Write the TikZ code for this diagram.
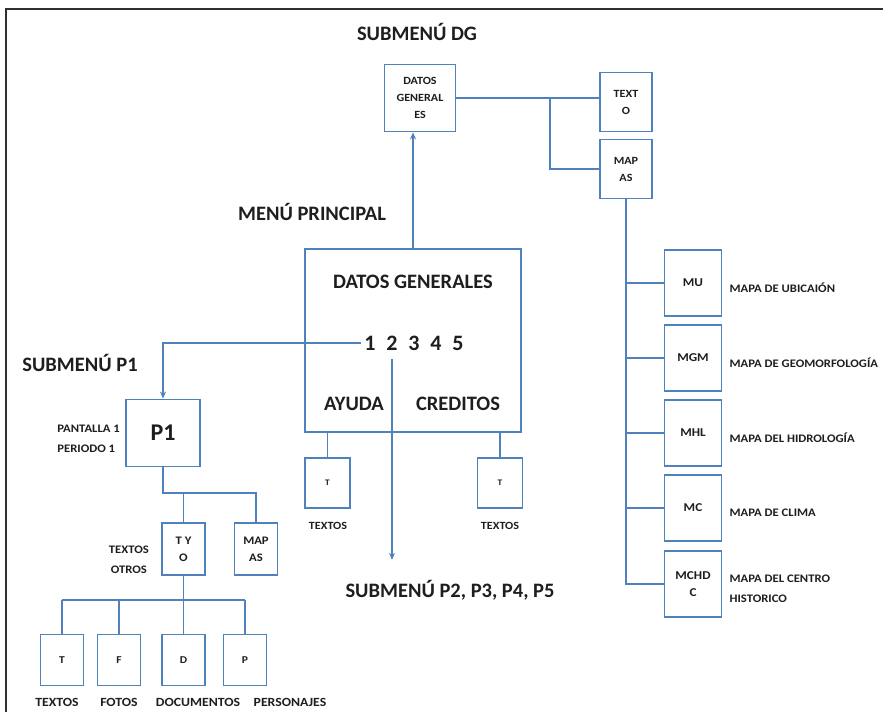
\documentclass[tikz,border=0pt]{standalone}
\usepackage{fontspec}
\setmainfont{Carlito}
\newfontfamily\wfont{Carlito}[FakeStretch=1.1]
\usepackage{tikz}
\usetikzlibrary{arrows.meta,positioning,calc}
\definecolor{acc}{HTML}{4F81BD}
\definecolor{ink}{HTML}{1E1E1E}
\definecolor{frm}{HTML}{303030}
\tikzset{
  >={Stealth[length=7pt,width=6pt]},
  box/.style={draw=acc,line width=1.8pt,fill=white,inner sep=1pt,align=center,text=ink,font=\wfont\bfseries\fontsize{11}{17}\selectfont},
  dgbox/.style={box,minimum width=71pt,minimum height=67pt},
  sbox/.style={box,minimum width=52pt,minimum height=59pt},
  mbox/.style={box,minimum width=57pt,minimum height=66pt,font=\wfont\bfseries\fontsize{12}{17}\selectfont},
  pbox/.style={box,minimum width=74pt,minimum height=67pt,font=\bfseries\fontsize{24}{26}\selectfont},
  obox/.style={box,minimum width=43pt,minimum height=52pt,font=\wfont\bfseries\fontsize{11.5}{17}\selectfont},
  tbox/.style={box,minimum width=45pt,minimum height=50pt,font=\wfont\bfseries\fontsize{8.5}{10}\selectfont},
  bbox/.style={box,minimum width=43pt,minimum height=51pt,font=\wfont\bfseries\fontsize{10.5}{12}\selectfont},
  ttl/.style={text=ink,inner sep=1pt,font=\bfseries\fontsize{20.5}{23}\selectfont},
  num/.style={text=ink,inner sep=3pt,font=\bfseries\fontsize{22}{24}\selectfont},
  lab/.style={text=ink,inner sep=1pt,align=left,font=\wfont\bfseries\fontsize{11.5}{20}\selectfont},
  blab/.style={text=ink,inner sep=1pt,font=\wfont\bfseries\fontsize{12.5}{14}\selectfont},
  ln/.style={draw=acc,line width=1.8pt},
  arr/.style={->,draw=acc,line width=1.8pt},
}
\begin{document}
\begin{tikzpicture}[x=1pt,y=-1pt]
\useasboundingbox (0,0) rectangle (883,712);
\draw[frm,line width=2.5pt] (6,712) -- (6,9) -- (883,9);

% submenu DG
\node[ttl] (tdg) at (417,32) {SUBMENÚ DG};
\node[dgbox] (dg) at (420,98) {DATOS\\GENERAL\\ES};
\node[sbox] (texto) at (626,102) {TEXT\\O};
\node[sbox] (mapas) at (626,169) {MAP\\AS};
\coordinate (jdg) at (550,98);
\draw[ln] (dg.east) -- (jdg) -- (jdg -| texto.west);
\draw[ln] (jdg) |- (mapas.west);

% map list
\foreach \n/\y/\t/\d in {mu/283/MU/{MAPA DE UBICAIÓN},mgm/358/MGM/{MAPA DE GEOMORFOLOGÍA},mhl/433/MHL/{MAPA DEL HIDROLOGÍA},mc/508/MC/{MAPA DE CLIMA},mchdc/584/{MCHD\\C}/{MAPA DEL CENTRO\\HISTORICO}}{
  \node[mbox] (\n) at (693,\y) {\t};
  \node[lab,anchor=west] (\n-l) at ([xshift=6pt,yshift=-5pt]\n.east) {\d};
}
\draw[ln] (mapas.south) |- (mchdc.west);
\foreach \n in {mu,mgm,mhl,mc}
  \draw[ln] (mapas.south |- \n.west) -- (\n.west);

% main menu
\node[ttl] (tmp) at (312,212) {MENÚ PRINCIPAL};
\node[box,minimum width=216pt,minimum height=183pt] (main) at (413,340.5) {};
\node[ttl] (dgt) at (413,282) {DATOS GENERALES};
\foreach \d in {1,...,5}
  \node[num] (n\d) at ({348+22*\d},343) {\d};
\node[ttl] (ayuda) at (354,404) {AYUDA};
\node[ttl] (cred) at (458,404) {CREDITOS};
\draw[arr] (main.north) -- (main.north |- dg.south);

\node[tbox] (ta) at (327.5,483) {T};
\node[tbox] (tc) at (500,483) {T};
\draw[ln] (main.south -| ta.north) -- (ta.north);
\draw[ln] (main.south -| tc.north) -- (tc.north);
\node[blab,font=\wfont\bfseries\fontsize{11}{12}\selectfont] (ta-l) at (328,526) {TEXTOS};
\node[blab,font=\wfont\bfseries\fontsize{11}{12}\selectfont] (tc-l) at (500,526) {TEXTOS};

\node[ttl] (tsub) at (450,590) {SUBMENÚ P2, P3, P4, P5};
\draw[arr,shorten <=6pt,shorten >=19pt] (n2.south) -- (n2.south |- tsub.north);

% submenu P1
\node[ttl] (tp1) at (80,363) {SUBMENÚ P1};
\node[pbox] (p1) at (163,433) {P1};
\draw[arr] (n1.west) -| (p1.north);
\node[lab,anchor=east] (pant) at (121,439) {PANTALLA 1\\PERIODO 1};

\coordinate (jp1) at (163,493);
\node[obox] (tyo) at (183.5,549) {T Y\\O};
\node[obox] (mp1) at (256,549) {MAP\\AS};
\draw[ln] (p1.south) -- (jp1) -| (mp1.north);
\draw[ln] (tyo.north) -- (tyo.north |- jp1);
\node[lab,align=center,anchor=east] (tot) at (150,560) {TEXTOS\\OTROS};

\coordinate (jtyo) at (183.5,600);
\foreach \n/\x/\t in {bt/62/T,bf/119/F,bd/183.5/D,bp/245/P}{
  \node[bbox] (\n) at (\x,660) {\t};
  \draw[ln] (\n.north) -- (\n.north |- jtyo);
}
\draw[ln] (tyo.south) -- (jtyo);
\draw[ln] (bt.north |- jtyo) -- (bp.north |- jtyo);
\node[blab] (bt-l) at (57,702) {TEXTOS};
\node[blab] (bf-l) at (119,702) {FOTOS};
\node[blab] (bd-l) at (198,702) {DOCUMENTOS};
\node[blab] (bp-l) at (290,702) {PERSONAJES};
\end{tikzpicture}
\end{document}
